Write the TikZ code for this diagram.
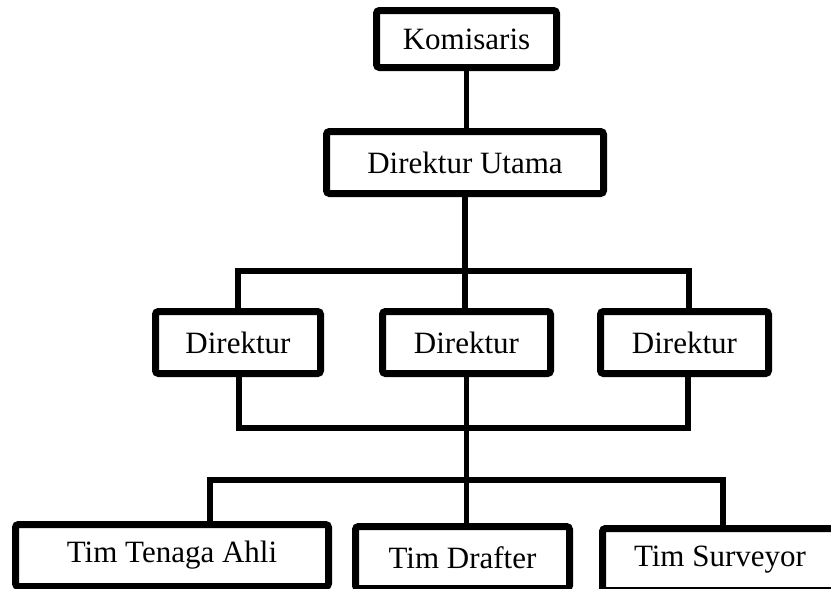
\documentclass[tikz,border=0pt]{standalone}
\usepackage{fontspec}
\setmainfont{Liberation Serif}
\begin{document}
\begin{tikzpicture}[x=0.5pt, y=-0.5pt, font=\fontsize{15.5}{18}\selectfont,
        box/.style={draw, line width=3.5pt, rounded corners=1.5pt, fill=white, inner sep=0pt, minimum height=31pt},
        link/.style={line width=2.8pt}]
        \useasboundingbox (0,0) rectangle (831,589);
        % boxes
        \node[box, minimum width=90pt, minimum height=28.5pt] (kom) at (466.5,39) {Komisaris};
        \node[box, minimum width=138.5pt] (dirut) at (465,162.5) {Direktur Utama};
        \foreach \n/\x/\w in {dir1/238/82.5, dir2/466.5/84, dir3/684.5/84} {
            \node[box, minimum width=\w pt] (\n) at (\x,342.5) {Direktur};
        }
        \node[box, minimum width=156.5pt] (ahli) at (172,555.5) {Tim Tenaga Ahli};
        \node[box, minimum width=107pt] (drafter) at (462.5,557.5) {Tim Drafter};
        \node[box, minimum width=117.5pt] (surveyor) at (720,559.5) {Tim Surveyor};
        % lines
        \coordinate (b1l) at (238,271); \coordinate (b1r) at (689,271);
        \coordinate (b2l) at (239,428); \coordinate (b2r) at (688,428);
        \coordinate (b3l) at (210,480); \coordinate (b3r) at (723,480);
        \draw[link] (kom.south) -- (kom.south |- dirut.north);
        \draw[link] (dirut.south) -- (dirut.south |- dir2.north);
        \draw[link] (b1l |- dir1.north) -- (b1l) -- (b1r) -- (b1r |- dir3.north);
        \draw[link] (b2l |- dir1.south) -- (b2l) -- (b2r) -- (b2r |- dir3.south);
        \draw[link] (dir2.south) -- (dir2.south |- drafter.north);
        \draw[link] (b3l |- ahli.north) -- (b3l) -- (b3r) -- (b3r |- surveyor.north);
    \end{tikzpicture}
\end{document}
